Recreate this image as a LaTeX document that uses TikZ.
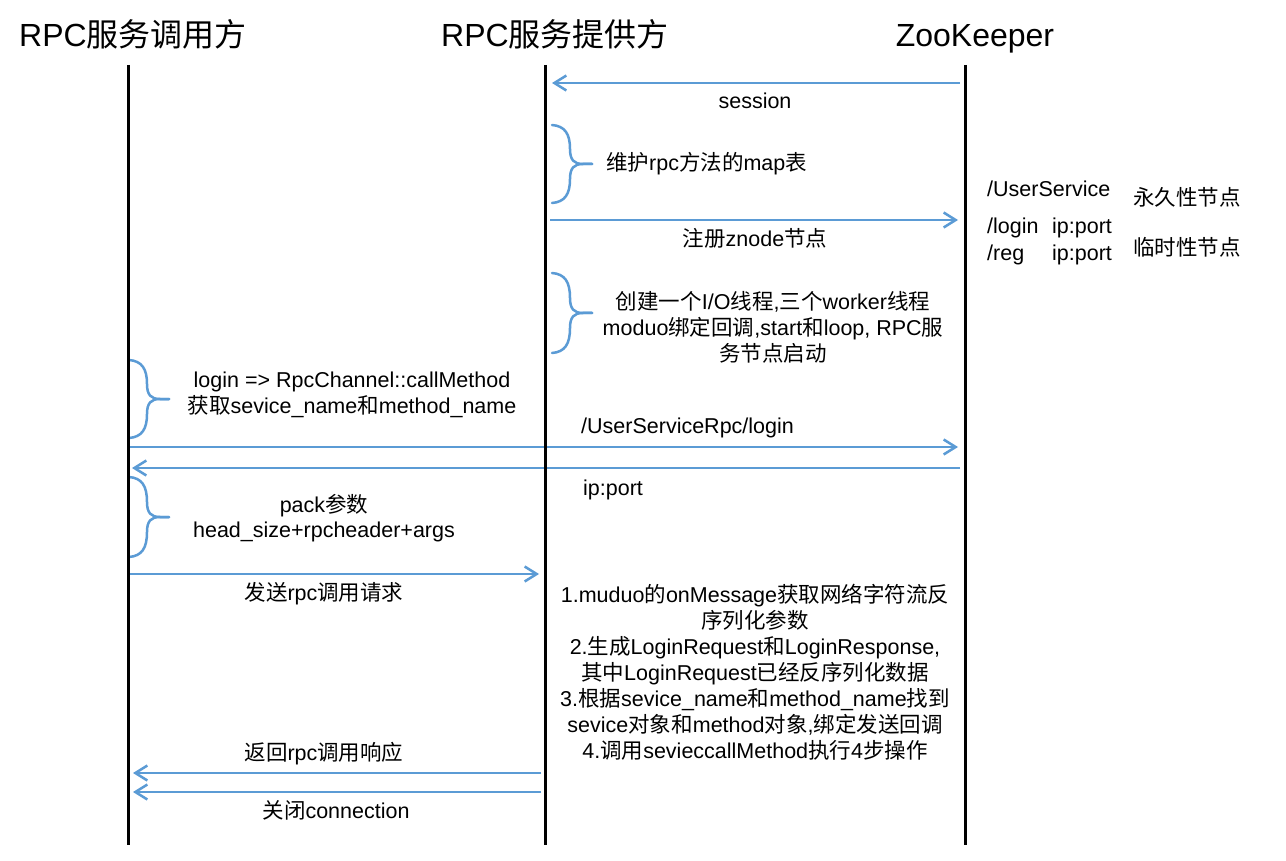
\documentclass[tikz,border=0pt]{standalone}
\usepackage{fontspec}
\setmainfont{Liberation Sans}
\newfontfamily\cjkfont{Noto Sans CJK SC}
\newcommand\zh[1]{{\cjkfont #1}}
\usetikzlibrary{arrows.meta}
\definecolor{msgblue}{RGB}{91,155,213}
\newcommand\drawbrace[4]{% name, left x, tip y, half height
  \draw[brc] (#2,#3-#4) .. controls (#2+13,#3-#4+1) and (#2+18,#3-#4+9) .. (#2+18,#3-15)
     .. controls (#2+18,#3-4) and (#2+22,#3) .. (#2+31,#3) -- (#2+40,#3)
     coordinate (#1);
  \draw[brc] (#1) -- (#2+31,#3) .. controls (#2+22,#3) and (#2+18,#3+4) .. (#2+18,#3+15)
     .. controls (#2+18,#3+#4-9) and (#2+13,#3+#4-1) .. (#2,#3+#4);
}
\begin{document}
\begin{tikzpicture}[x=1pt,y=-1pt,
  life/.style={line width=3pt,black},
  msg/.style={line width=2.5pt,msgblue,-{Straight Barb[length=12pt,width=15pt,line width=2.5pt]}},
  brc/.style={line width=2.5pt,msgblue,line cap=round},
  title/.style={anchor=base,inner sep=0pt,font=\fontsize{32}{37}\selectfont},
  lbl/.style={anchor=base,inner sep=0pt,font=\fontsize{21.5}{26}\selectfont},
  lbll/.style={lbl,anchor=base west}]
\useasboundingbox (0,0) rectangle (1286,861);
\fill[white] (0,0) rectangle (1286,861);

% titles
\node[title] (t1) at (133,47) {RPC\zh{服务调用方}};
\node[title] (t2) at (555,47) {RPC\zh{服务提供方}};
\node[title] (t3) at (975,47) {ZooKeeper};

% lifeline coordinates
\coordinate (A1) at (128,65);  \coordinate (A2) at (128,845);
\coordinate (B1) at (545,65);  \coordinate (B2) at (545,845);
\coordinate (C1) at (965,65);  \coordinate (C2) at (965,845);

% message end points
\coordinate (m1a) at (960,83);  \coordinate (m1b) at (552,83);
\coordinate (m2a) at (550,220); \coordinate (m2b) at (958,220);
\coordinate (m3a) at (128,447); \coordinate (m3b) at (958,447);
\coordinate (m4a) at (960,468); \coordinate (m4b) at (132,468);
\coordinate (m5a) at (130,574); \coordinate (m5b) at (539,574);
\coordinate (m6a) at (541,773); \coordinate (m6b) at (133,773);
\coordinate (m7a) at (541,792); \coordinate (m7b) at (133,792);

\draw[msg] (m1a) -- (m1b);
\draw[msg] (m2a) -- (m2b);
\draw[msg] (m3a) -- (m3b);
\draw[msg] (m4a) -- (m4b);
\draw[msg] (m5a) -- (m5b);
\draw[msg] (m6a) -- (m6b);
\draw[msg] (m7a) -- (m7b);

% braces
\drawbrace{br1}{552}{164}{39}
\drawbrace{br2}{552}{313}{40}
\drawbrace{br3}{129}{399}{39}
\drawbrace{br4}{129}{517}{40}

% lifelines
\draw[life] (A1) -- (A2);
\draw[life] (B1) -- (B2);
\draw[life] (C1) -- (C2);

% labels
\node[lbl] (l1) at (755,109) {session};
\node[lbll] (l2) at (606,171) {\zh{维护}rpc\zh{方法的}map\zh{表}};
\node[lbl] (l3) at (755,247) {\zh{注册}znode\zh{节点}};
\node[lbl] (l4a) at (773,309) {\zh{创建一个}I/O\zh{线程},\zh{三个}worker\zh{线程}};
\node[lbl] (l4b) at (773,335) {moduo\zh{绑定回调},start\zh{和}loop, RPC\zh{服}};
\node[lbl] (l4c) at (773,361) {\zh{务节点启动}};
\node[lbl] (l5a) at (352,387) {login => RpcChannel::callMethod};
\node[lbl] (l5b) at (352,413) {\zh{获取}sevice\_name\zh{和}method\_name};
\node[lbll] (l6) at (581,433) {/UserServiceRpc/login};
\node[lbll] (l7) at (583,495) {ip:port};
\node[lbl] (l8a) at (324,512) {pack\zh{参数}};
\node[lbl] (l8b) at (324,537) {head\_size+rpcheader+args};
\node[lbl] (l9) at (324,600) {\zh{发送}rpc\zh{调用请求}};

\node[lbl] (p1) at (755,602) {1.muduo\zh{的}onMessage\zh{获取网络字符流反}};
\node[lbl] (p2) at (755,628) {\zh{序列化参数}};
\node[lbl] (p3) at (755,654) {2.\zh{生成}LoginRequest\zh{和}LoginResponse,};
\node[lbl] (p4) at (755,680) {\zh{其中}LoginRequest\zh{已经反序列化数据}};
\node[lbl] (p5) at (755,706) {3.\zh{根据}sevice\_name\zh{和}method\_name\zh{找到}};
\node[lbl] (p6) at (755,732) {sevice\zh{对象和}method\zh{对象},\zh{绑定发送回调}};
\node[lbl] (p7) at (755,758) {4.\zh{调用}sevieccallMethod\zh{执行}4\zh{步操作}};

\node[lbl] (l10) at (324,760) {\zh{返回}rpc\zh{调用响应}};
\node[lbl] (l11) at (336,818) {\zh{关闭}connection};

% zookeeper nodes
\node[lbll] (z1) at (987,197) {/UserService};
\node[lbll] (z2) at (1133,206) {\zh{永久性节点}};
\node[lbll] (z3) at (987,234) {/login};
\node[lbll] (z3p) at (1052,234) {ip:port};
\node[lbll] (z4) at (987,261) {/reg};
\node[lbll] (z4p) at (1052,261) {ip:port};
\node[lbll] (z5) at (1133,256) {\zh{临时性节点}};
\end{tikzpicture}
\end{document}
